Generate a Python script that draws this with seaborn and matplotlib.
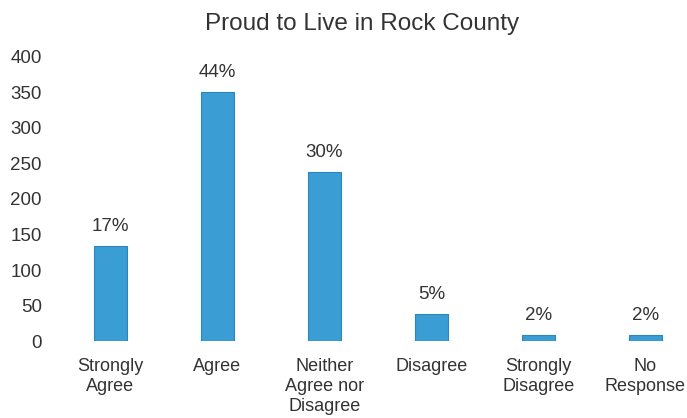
import matplotlib
matplotlib.use("Agg")
import matplotlib.pyplot as plt
import seaborn as sns
import pandas as pd

categories = ["Strongly\nAgree", "Agree", "Neither\nAgree nor\nDisagree", "Disagree",
              "Strongly\nDisagree", "No\nResponse"]
counts = [134, 350, 238, 38, 8, 8]
percent_labels = ["17%", "44%", "30%", "5%", "2%", "2%"]
yticks = [0, 50, 100, 150, 200, 250, 300, 350, 400]

sns.set_theme(style="white")
plt.rcParams['font.family'] = ['Liberation Sans', 'DejaVu Sans']

df = pd.DataFrame({"category": categories, "count": counts})

fig = plt.figure(figsize=(6.87, 4.18), dpi=100)
ax = fig.add_axes([0.083, 0.184, 0.934, 0.68])
sns.barplot(data=df, x="category", y="count", ax=ax, color="#3a9dd4",
            saturation=1, width=0.31, edgecolor="#2a86bd", linewidth=0.8)

for i, (v, lab) in enumerate(zip(counts, percent_labels)):
    ax.annotate(lab, (i, v), xytext=(0, 8), textcoords="offset points",
                ha="center", va="bottom", fontsize=13.5, color="#333333")

ax.set_ylim(0, 400)
ax.set_xlim(-0.5, 5.5)
ax.set_yticks(yticks)
ax.set_yticklabels([str(t) for t in yticks], fontsize=13.5, color="#333333")
ax.tick_params(axis="y", pad=11, length=0)
ax.tick_params(axis="x", pad=12, length=0, labelsize=13, labelcolor="#333333")
for lbl in ax.get_xticklabels():
    lbl.set_linespacing(1.25)
ax.set_xlabel("")
ax.set_ylabel("")
for s in ax.spines.values():
    s.set_visible(False)
fig.text(0.527, 0.942, "Proud to Live in Rock County", ha="center", va="center",
         fontsize=17.5, color="#333333")

fig.savefig("out.png", dpi=100)
